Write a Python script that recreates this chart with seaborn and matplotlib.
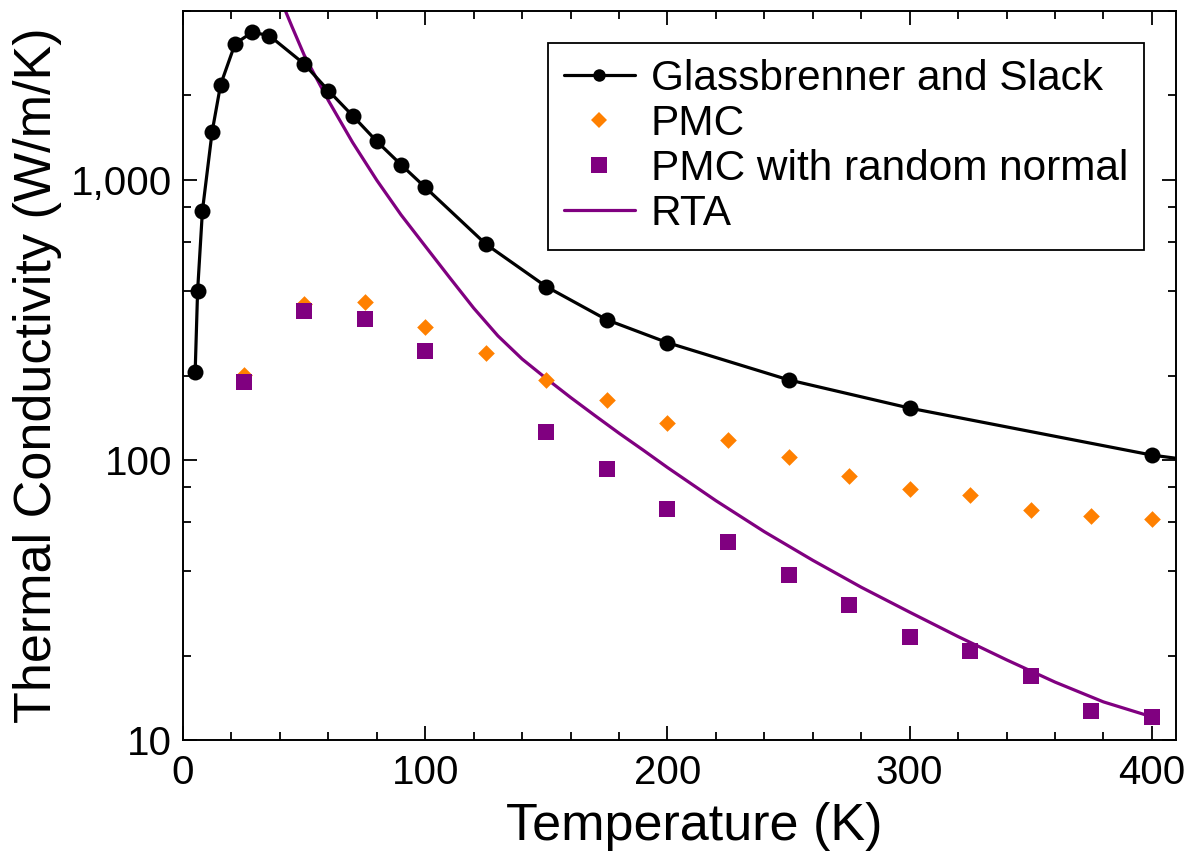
import numpy as np
import pandas as pd
import matplotlib
matplotlib.use("Agg")
import matplotlib.pyplot as plt
import seaborn as sns
from matplotlib.ticker import FixedLocator, StrMethodFormatter, NullFormatter
from matplotlib.lines import Line2D

# ---------------- data ----------------
gs_T = [5, 6, 8, 12, 15.5, 21.5, 28.6, 35.6, 50, 60, 70, 80, 90, 100, 125, 150, 175, 200, 250, 300, 400, 500]
gs_k = [206, 400, 775, 1481, 2183, 3060, 3358, 3268, 2589, 2080, 1692, 1370, 1131, 939, 589, 415, 316, 262, 193, 153, 104, 80]

pmc_T = [25, 50, 75, 100, 125, 150, 175, 200, 225, 250, 275, 300, 325, 350, 375, 400]
pmc_k = [201, 361, 365, 299, 240, 193, 163, 135, 118, 102.5, 87.7, 78.8, 75, 66.3, 63, 61.5]

rn_T = [25, 50, 75, 100, 150, 175, 200, 225, 250, 275, 300, 325, 350, 375, 400]
rn_k = [189, 339, 318, 245, 126, 93, 66.8, 51, 38.8, 30.3, 23.3, 20.8, 16.9, 12.7, 12.1]

rta_T = [42, 45, 50, 55, 60, 70, 80, 90, 100, 110, 120, 130, 140, 150, 160, 170, 180, 190,
         200, 220, 240, 260, 280, 300, 320, 340, 360, 380, 400]
rta_k = [4055, 3513, 2786, 2308, 1916, 1358, 995, 749, 579, 448, 348, 277, 229, 195, 167,
         144, 124.5, 108.3, 93.9, 71.5, 55.4, 43.8, 35.1, 28.6, 23.4, 19.33, 16.1, 13.68, 12.1]

labels = ["Glassbrenner and Slack", "PMC", "PMC with random normal", "RTA"]
x_major = [0, 100, 200, 300, 400]
y_major = [10, 100, 1000]
y_minor = [20, 40, 60, 80, 200, 400, 600, 800, 2000, 4000]

# ---------------- style ----------------
sns.set_theme(style="ticks")
plt.rcParams["font.family"] = ["Liberation Sans", "DejaVu Sans"]
for key in ["text.color", "axes.labelcolor", "xtick.color", "ytick.color", "axes.edgecolor"]:
    plt.rcParams[key] = "black"

BLACK = "#000000"
ORANGE = "#FF8000"
PURPLE = "#800080"

fig = plt.figure(figsize=(11.91, 8.59), dpi=100)
ax = fig.add_axes([0.1537, 0.1385, 0.8338, 0.8487])

df_gs = pd.DataFrame({"T": gs_T, "k": gs_k})
df_pmc = pd.DataFrame({"T": pmc_T, "k": pmc_k})
df_rn = pd.DataFrame({"T": rn_T, "k": rn_k})
df_rta = pd.DataFrame({"T": rta_T, "k": rta_k})

sns.lineplot(data=df_rta, x="T", y="k", ax=ax, color=PURPLE, linewidth=2.3,
             sort=False, estimator=None, zorder=2)
sns.lineplot(data=df_gs, x="T", y="k", ax=ax, color=BLACK, linewidth=2.3,
             marker="o", markersize=11.5, markeredgewidth=0,
             sort=False, estimator=None, zorder=3)
sns.scatterplot(data=df_pmc, x="T", y="k", ax=ax, color=ORANGE, marker="D",
                s=72, linewidth=0, zorder=4)
sns.scatterplot(data=df_rn, x="T", y="k", ax=ax, color=PURPLE, marker="s",
                s=125, linewidth=0, zorder=5)

ax.set_yscale("log")
ax.set_xlim(0, 410)
ax.set_ylim(10, 4000)

ax.xaxis.set_major_locator(FixedLocator(x_major))
ax.xaxis.set_minor_locator(FixedLocator([v for v in range(20, 410, 20) if v % 100 != 0]))
ax.yaxis.set_major_locator(FixedLocator(y_major))
ax.yaxis.set_minor_locator(FixedLocator(y_minor))
ax.yaxis.set_major_formatter(StrMethodFormatter("{x:,.0f}"))
ax.yaxis.set_minor_formatter(NullFormatter())

ax.tick_params(which="both", direction="in", top=True, right=True, width=1.3,
               color="black", labelcolor="black", labelsize=29)
ax.tick_params(which="major", length=10)
ax.tick_params(which="minor", length=6)
ax.tick_params(axis="x", which="major", pad=10)
ax.tick_params(axis="y", which="major", pad=8)

for sp in ax.spines.values():
    sp.set_linewidth(1.4)
    sp.set_color("black")
    sp.set_visible(True)

ax.set_xlabel("Temperature (K)", fontsize=37.5, labelpad=4)
ax.set_ylabel("Thermal Conductivity (W/m/K)", fontsize=37.5, labelpad=6)
ax.xaxis.set_label_coords(0.515, -0.085)

handles = [
    Line2D([], [], color=BLACK, linewidth=2.3, marker="o", markersize=9, markeredgewidth=0),
    Line2D([], [], color=ORANGE, linestyle="none", marker="D", markersize=8.4, markeredgewidth=0),
    Line2D([], [], color=PURPLE, linestyle="none", marker="s", markersize=11, markeredgewidth=0),
    Line2D([], [], color=PURPLE, linewidth=2.3),
]
leg = ax.legend(handles, labels, loc="upper right", fontsize=30.5, frameon=True,
                fancybox=False, framealpha=1, edgecolor="black",
                handlelength=1.67, handletextpad=0.38, labelspacing=0.12,
                borderpad=0.38, borderaxespad=0.75)
leg.get_frame().set_linewidth(1.3)

fig.savefig("out.png", dpi=100)
